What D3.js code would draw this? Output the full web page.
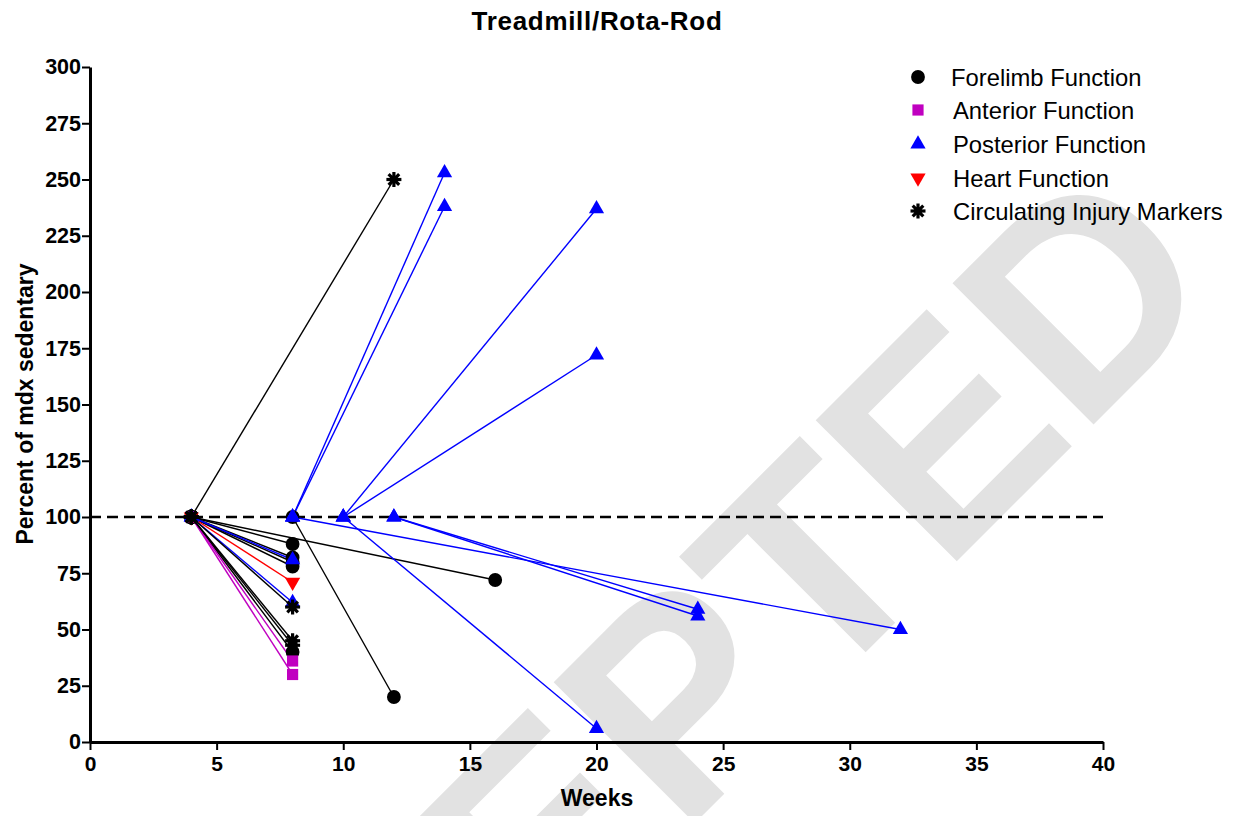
<!DOCTYPE html>
<html>
<head>
<meta charset="utf-8">
<script src="https://cdn.jsdelivr.net/npm/d3@7"></script>
<style>
  html, body { margin: 0; padding: 0; background: #fff; }
  svg { display: block; }
</style>
</head>
<body>
<svg id="chart" width="1240" height="816"></svg>
<script>
// ---------------- DATA ----------------
const xTicks = [0, 5, 10, 15, 20, 25, 30, 35, 40];
const yTicks = [0, 25, 50, 75, 100, 125, 150, 175, 200, 225, 250, 275, 300];
const referenceValue = 100;

const seriesNames = ["Forelimb Function", "Anterior Function", "Posterior Function", "Heart Function", "Circulating Injury Markers"];
const seriesColors = ["#000000", "#c000c0", "#0000ff", "#ff0000", "#000000"];
const seriesSymbols = ["circle", "square", "triangle", "triangleDown", "asterisk"];

// each segment starts at 100% at startWeek and ends at endValue at endWeek
const forelimbStart = [8, 4, 4, 4, 4, 4, 4];
const forelimbEnd   = [12, 16, 8, 8, 8, 8, 8];
const forelimbValue = [20, 72, 88, 82, 80, 78, 40];

const anteriorStart = [4, 4];
const anteriorEnd   = [8, 8];
const anteriorValue = [36, 30];

const posteriorStart = [4, 4, 8, 8, 8, 10, 10, 10, 12, 12];
const posteriorEnd   = [8, 8, 14, 14, 32, 20, 20, 20, 24, 24];
const posteriorValue = [81, 62, 253, 238, 50, 237, 172, 6, 59, 56];

const heartStart = [4];
const heartEnd   = [8];
const heartValue = [71];

const circulatingStart = [4, 4, 4, 4];
const circulatingEnd   = [12, 8, 8, 8];
const circulatingValue = [250, 60, 45, 43];

// ---------------- CHART ----------------
const svg = d3.select("#chart");
const x = d3.scaleLinear().domain([0, 40]).range([90, 1103]);
const y = d3.scaleLinear().domain([0, 300]).range([742, 67]);
const font = "Liberation Sans, Arial, sans-serif";

// watermark
svg.append("text")
  .attr("transform", "translate(100,1418) rotate(-45)")
  .attr("font-family", font)
  .attr("font-weight", "bold")
  .attr("font-size", 290)
  .attr("fill", "#e2e2e2")
  .text("ACCEPTED");

const series = [
  {start: forelimbStart, end: forelimbEnd, value: forelimbValue},
  {start: anteriorStart, end: anteriorEnd, value: anteriorValue},
  {start: posteriorStart, end: posteriorEnd, value: posteriorValue},
  {start: heartStart, end: heartEnd, value: heartValue},
  {start: circulatingStart, end: circulatingEnd, value: circulatingValue}
].map((s, i) => ({
  name: seriesNames[i], color: seriesColors[i], symbol: seriesSymbols[i],
  segs: s.start.map((st, j) => ({x0: st, y0: referenceValue, x1: s.end[j], y1: s.value[j]}))
}));

// dashed reference line
svg.append("line")
  .attr("x1", x(0)).attr("x2", x(40))
  .attr("y1", y(referenceValue)).attr("y2", y(referenceValue))
  .attr("stroke", "#000").attr("stroke-width", 2.6)
  .attr("stroke-dasharray", "11,6");

// axes
const yAxis = svg.append("g").attr("transform", `translate(${x(0)},0)`)
  .call(d3.axisLeft(y).tickValues(yTicks).tickSize(8).tickSizeOuter(0).tickPadding(1));
const xAxis = svg.append("g").attr("transform", `translate(0,${y(0)})`)
  .call(d3.axisBottom(x).tickValues(xTicks).tickSize(8).tickSizeOuter(0).tickPadding(6));
[yAxis, xAxis].forEach(a => {
  a.select(".domain").attr("stroke", "#000").attr("stroke-width", 3);
  a.selectAll(".tick line").attr("stroke", "#000").attr("stroke-width", 2);
  a.selectAll(".tick text").attr("font-family", font).attr("font-weight", "bold")
    .attr("font-size", 21.5).attr("fill", "#000");
});
xAxis.selectAll(".tick text").attr("font-size", 21);

// symbols
function symbolPath(type) {
  if (type === "circle") return d3.symbol(d3.symbolCircle, 150)();
  if (type === "square") return d3.symbol(d3.symbolSquare, 125)();
  return d3.symbol(d3.symbolTriangle, 100)();
}
function drawSymbol(g, type, color) {
  if (type === "asterisk") {
    const r = 7.5;
    [0, 45, 90, 135].forEach(a => {
      const rad = a * Math.PI / 180;
      g.append("line")
        .attr("x1", -r * Math.cos(rad)).attr("y1", -r * Math.sin(rad))
        .attr("x2", r * Math.cos(rad)).attr("y2", r * Math.sin(rad))
        .attr("stroke", color).attr("stroke-width", 3.2);
    });
    g.append("circle").attr("r", 4).attr("fill", color);
  } else {
    const p = g.append("path").attr("d", symbolPath(type)).attr("fill", color);
    if (type === "triangleDown") p.attr("transform", "rotate(180)");
  }
}

// lines
const plot = svg.append("g");
series.forEach(s => {
  plot.append("g").selectAll("line").data(s.segs).join("line")
    .attr("x1", d => x(d.x0)).attr("y1", d => y(d.y0))
    .attr("x2", d => x(d.x1)).attr("y2", d => y(d.y1))
    .attr("stroke", s.color).attr("stroke-width", 1.4);
});
// markers
series.forEach(s => {
  const pts = [];
  s.segs.forEach(d => { pts.push([d.x0, d.y0]); pts.push([d.x1, d.y1]); });
  pts.forEach(p => {
    const g = plot.append("g").attr("transform", `translate(${x(p[0])},${y(p[1])})`);
    drawSymbol(g, s.symbol, s.color);
  });
});

// title & axis titles
svg.append("text").attr("x", 597).attr("y", 30).attr("text-anchor", "middle")
  .attr("font-family", font).attr("font-weight", "bold").attr("font-size", 26)
  .attr("letter-spacing", 0.7).text("Treadmill/Rota-Rod");
svg.append("text").attr("x", 597).attr("y", 806).attr("text-anchor", "middle")
  .attr("font-family", font).attr("font-weight", "bold").attr("font-size", 23)
  .text("Weeks");
svg.append("text").attr("transform", "translate(33,404) rotate(-90)").attr("text-anchor", "middle")
  .attr("font-family", font).attr("font-weight", "bold").attr("font-size", 23)
  .text("Percent of mdx sedentary");

// legend
const legendY = [77, 110, 144, 178, 211];
series.forEach((s, i) => {
  const g = svg.append("g").attr("transform", `translate(918,${legendY[i]})`);
  drawSymbol(g, s.symbol, s.color);
  svg.append("text").attr("x", i === 0 ? 951 : 953).attr("y", legendY[i] + 8.5)
    .attr("font-family", font).attr("font-size", 23.8).attr("fill", "#000")
    .text(s.name);
});
</script>
</body>
</html>
